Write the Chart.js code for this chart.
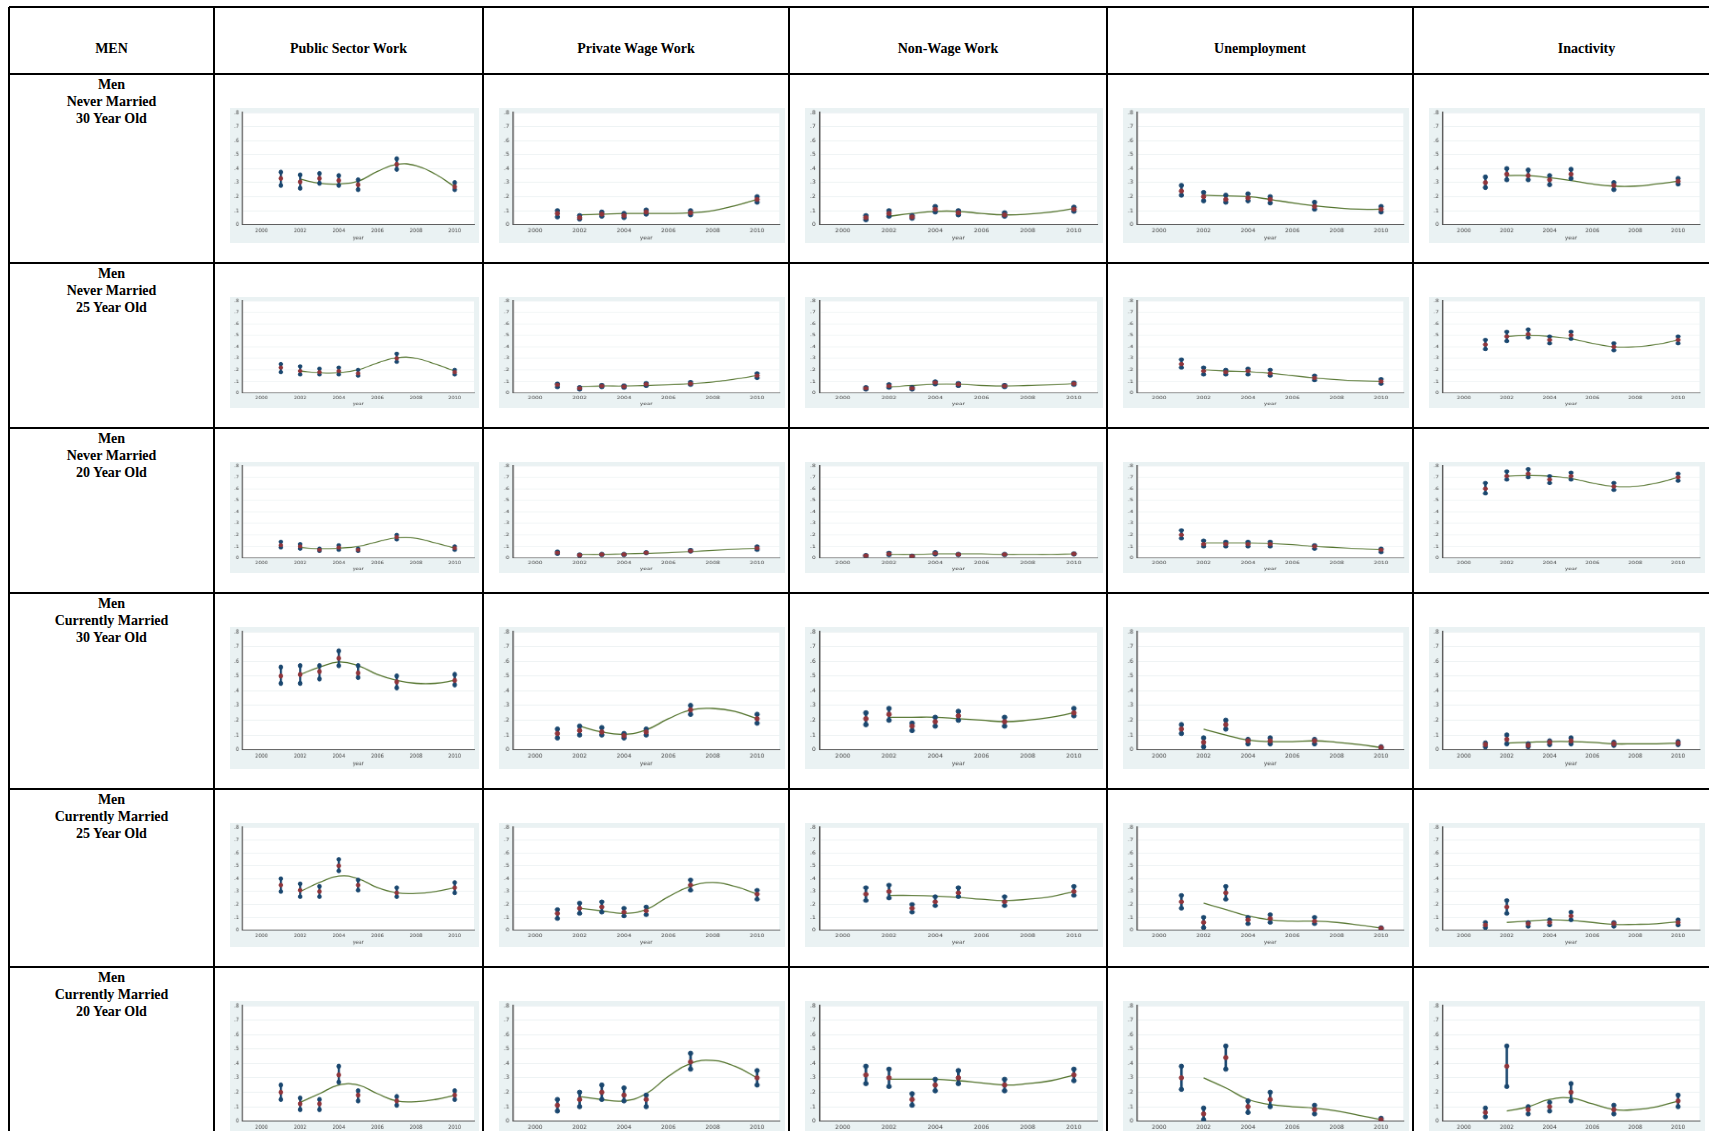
<!DOCTYPE html>
<html><head><meta charset="utf-8">
<script src="https://cdn.jsdelivr.net/npm/chart.js@4"></script>
<style>
body{margin:0;background:#fff;width:1709px;height:1131px;overflow:hidden;position:relative;font-family:"Liberation Serif","Times New Roman",serif;}
.hl{position:absolute;background:#000;height:2px;}
.vl{position:absolute;background:#000;width:2px;}
.txt{position:absolute;font-weight:bold;font-size:14px;text-align:center;line-height:17px;}
.panel{position:absolute;background:#eaf2f3;}
.panel canvas{position:absolute;left:0;top:0;}
</style></head><body>
<script>
const years = [2001,2002,2003,2004,2005,2007,2010];
const fitYears = [2002,2003,2004,2005,2006,2007,2008,2009,2010];
const columns = ["Public Sector Work","Private Wage Work","Non-Wage Work","Unemployment","Inactivity"];
const rowLabels = [["Men","Never Married","30 Year Old"],["Men","Never Married","25 Year Old"],["Men","Never Married","20 Year Old"],["Men","Currently Married","30 Year Old"],["Men","Currently Married","25 Year Old"],["Men","Currently Married","20 Year Old"]];
const yTicks = [0,1,2,3,4,5,6,7,8];
const xTicks = [2000,2002,2004,2006,2008,2010];
// [lo, mid, hi] per year (in tenths of a share), and fitted curve values
const nm30_pub = [[2.8,3.3,3.75],[2.6,3.05,3.55],[2.95,3.3,3.65],[2.8,3.15,3.5],[2.5,2.85,3.2],[3.95,4.3,4.7],[2.5,2.7,3.0]];
const nm30_pub_fit = [3.25,2.95,2.9,3.1,3.8,4.3,4.2,3.6,2.7];
const nm30_prv = [[0.55,0.8,1.0],[0.4,0.5,0.65],[0.6,0.75,0.9],[0.5,0.65,0.8],[0.75,0.9,1.05],[0.7,0.85,1.0],[1.6,1.8,2.0]];
const nm30_prv_fit = [0.7,0.75,0.8,0.8,0.8,0.85,1.0,1.35,1.8];
const nm30_nw = [[0.35,0.5,0.65],[0.6,0.8,1.0],[0.45,0.55,0.65],[0.9,1.1,1.3],[0.7,0.85,1.0],[0.6,0.7,0.85],[0.95,1.1,1.25]];
const nm30_nw_fit = [0.6,0.8,0.95,0.95,0.8,0.7,0.75,0.9,1.15];
const nm30_un = [[2.1,2.4,2.8],[1.7,2.0,2.3],[1.6,1.8,2.1],[1.7,1.9,2.2],[1.55,1.8,2.0],[1.1,1.3,1.6],[0.9,1.1,1.3]];
const nm30_un_fit = [2.1,2.05,2.0,1.8,1.55,1.35,1.2,1.1,1.1];
const nm30_in = [[2.65,3.0,3.4],[3.2,3.6,4.0],[3.2,3.5,3.9],[2.85,3.2,3.5],[3.3,3.6,3.95],[2.5,2.8,3.0],[2.9,3.1,3.3]];
const nm30_in_fit = [3.5,3.5,3.35,3.15,2.9,2.75,2.75,2.9,3.1];

const nm25_pub = [[1.8,2.2,2.5],[1.6,1.9,2.3],[1.6,1.8,2.1],[1.6,1.9,2.2],[1.5,1.7,2.0],[2.7,3.0,3.4],[1.6,1.8,2.0]];
const nm25_pub_fit = [1.9,1.75,1.75,2.0,2.6,3.05,3.0,2.5,1.9];
const nm25_prv = [[0.5,0.7,0.8],[0.3,0.4,0.5],[0.5,0.6,0.7],[0.45,0.55,0.65],[0.6,0.75,0.85],[0.7,0.8,0.95],[1.3,1.5,1.7]];
const nm25_prv_fit = [0.55,0.6,0.6,0.65,0.7,0.8,0.95,1.2,1.5];
const nm25_nw = [[0.3,0.4,0.5],[0.45,0.6,0.75],[0.3,0.4,0.5],[0.75,0.9,1.0],[0.6,0.75,0.85],[0.5,0.6,0.7],[0.7,0.8,0.9]];
const nm25_nw_fit = [0.5,0.65,0.75,0.75,0.65,0.6,0.65,0.7,0.8];
const nm25_un = [[2.2,2.5,2.9],[1.6,1.9,2.2],[1.6,1.8,2.0],[1.6,1.9,2.1],[1.5,1.7,2.0],[1.1,1.3,1.5],[0.8,1.0,1.2]];
const nm25_un_fit = [2.0,1.9,1.85,1.7,1.5,1.3,1.15,1.05,1.0];
const nm25_in = [[3.8,4.2,4.6],[4.5,4.9,5.3],[4.8,5.1,5.5],[4.3,4.6,4.9],[4.7,5.0,5.3],[3.7,4.0,4.3],[4.3,4.6,4.9]];
const nm25_in_fit = [4.9,5.0,4.9,4.7,4.3,4.0,4.0,4.2,4.6];

const nm20_pub = [[0.9,1.1,1.4],[0.8,1.0,1.2],[0.6,0.7,0.8],[0.7,0.9,1.1],[0.6,0.7,0.8],[1.6,1.8,2.0],[0.7,0.85,1.0]];
const nm20_pub_fit = [0.9,0.8,0.85,1.0,1.4,1.75,1.7,1.3,0.85];
const nm20_prv = [[0.35,0.45,0.55],[0.2,0.25,0.3],[0.25,0.3,0.35],[0.25,0.3,0.35],[0.4,0.45,0.5],[0.55,0.6,0.7],[0.7,0.85,1.0]];
const nm20_prv_fit = [0.3,0.3,0.35,0.4,0.45,0.55,0.65,0.75,0.85];
const nm20_nw = [[0.15,0.2,0.25],[0.25,0.35,0.45],[0.1,0.15,0.2],[0.3,0.4,0.5],[0.25,0.3,0.35],[0.25,0.3,0.35],[0.3,0.35,0.4]];
const nm20_nw_fit = [0.3,0.3,0.35,0.35,0.35,0.3,0.3,0.3,0.35];
const nm20_un = [[1.7,2.0,2.4],[1.0,1.2,1.5],[1.0,1.2,1.4],[1.0,1.2,1.4],[1.0,1.2,1.4],[0.8,1.0,1.1],[0.5,0.7,0.8]];
const nm20_un_fit = [1.3,1.3,1.3,1.25,1.15,1.0,0.9,0.8,0.7];
const nm20_in = [[5.6,6.0,6.5],[6.8,7.1,7.5],[7.0,7.3,7.7],[6.5,6.8,7.1],[6.8,7.1,7.4],[5.9,6.2,6.5],[6.7,7.0,7.3]];
const nm20_in_fit = [7.1,7.15,7.1,6.9,6.5,6.2,6.2,6.5,7.0];

const cm30_pub = [[4.5,5.0,5.6],[4.5,5.1,5.7],[4.8,5.3,5.7],[5.7,6.2,6.7],[4.9,5.2,5.7],[4.2,4.6,5.0],[4.4,4.7,5.1]];
const cm30_pub_fit = [5.1,5.6,5.95,5.7,5.1,4.7,4.5,4.5,4.7];
const cm30_prv = [[0.8,1.1,1.4],[1.0,1.3,1.6],[1.0,1.2,1.5],[0.8,0.95,1.1],[1.0,1.2,1.4],[2.4,2.7,3.0],[1.8,2.1,2.4]];
const cm30_prv_fit = [1.6,1.2,1.05,1.35,2.1,2.7,2.8,2.6,2.1];
const cm30_nw = [[1.7,2.1,2.5],[2.0,2.4,2.8],[1.3,1.6,1.8],[1.6,1.9,2.2],[2.0,2.3,2.6],[1.6,1.9,2.2],[2.3,2.5,2.8]];
const cm30_nw_fit = [2.2,2.2,2.2,2.1,2.0,1.9,2.0,2.2,2.5];
const cm30_un = [[1.1,1.4,1.7],[0.2,0.5,0.8],[1.4,1.7,2.0],[0.4,0.6,0.7],[0.4,0.6,0.8],[0.4,0.6,0.7],[0.1,0.15,0.2]];
const cm30_un_fit = [1.4,1.0,0.65,0.55,0.55,0.6,0.5,0.35,0.15];
const cm30_in = [[0.2,0.35,0.45],[0.4,0.7,1.0],[0.2,0.3,0.4],[0.35,0.5,0.6],[0.4,0.6,0.8],[0.3,0.4,0.5],[0.35,0.45,0.55]];
const cm30_in_fit = [0.45,0.5,0.55,0.55,0.5,0.4,0.4,0.4,0.45];

const cm25_pub = [[3.0,3.5,4.0],[2.6,3.1,3.6],[2.6,3.0,3.4],[4.6,5.0,5.5],[3.1,3.5,3.9],[2.6,2.9,3.3],[2.9,3.3,3.7]];
const cm25_pub_fit = [3.0,3.7,4.2,4.0,3.3,2.9,2.85,3.0,3.3];
const cm25_prv = [[0.9,1.3,1.6],[1.3,1.7,2.1],[1.4,1.8,2.2],[1.1,1.4,1.7],[1.2,1.5,1.8],[3.1,3.5,3.9],[2.4,2.8,3.1]];
const cm25_prv_fit = [1.7,1.5,1.3,1.6,2.6,3.4,3.7,3.4,2.8];
const cm25_nw = [[2.3,2.8,3.3],[2.5,3.0,3.5],[1.4,1.7,2.0],[1.9,2.2,2.6],[2.6,2.9,3.3],[1.9,2.2,2.6],[2.7,3.0,3.4]];
const cm25_nw_fit = [2.7,2.7,2.65,2.55,2.4,2.3,2.4,2.6,3.0];
const cm25_un = [[1.7,2.2,2.7],[0.2,0.6,1.0],[2.4,2.9,3.4],[0.5,0.8,1.0],[0.6,0.9,1.2],[0.5,0.7,1.0],[0.1,0.15,0.2]];
const cm25_un_fit = [2.1,1.6,1.1,0.8,0.7,0.7,0.6,0.4,0.15];
const cm25_in = [[0.2,0.4,0.6],[1.3,1.8,2.3],[0.3,0.5,0.6],[0.4,0.6,0.8],[0.8,1.1,1.4],[0.3,0.5,0.6],[0.4,0.6,0.8]];
const cm25_in_fit = [0.6,0.7,0.8,0.75,0.6,0.45,0.45,0.5,0.65];

const cm20_pub = [[1.5,2.0,2.5],[0.8,1.2,1.6],[0.8,1.2,1.5],[2.7,3.2,3.8],[1.4,1.8,2.1],[1.1,1.4,1.7],[1.5,1.8,2.1]];
const cm20_pub_fit = [1.3,1.9,2.5,2.5,1.9,1.4,1.35,1.5,1.8];
const cm20_prv = [[0.7,1.1,1.5],[1.0,1.5,2.0],[1.5,2.0,2.5],[1.4,1.8,2.3],[1.0,1.5,1.8],[3.6,4.1,4.7],[2.5,3.0,3.5]];
const cm20_prv_fit = [1.7,1.5,1.4,1.9,3.1,4.0,4.2,3.8,3.0];
const cm20_nw = [[2.6,3.2,3.8],[2.4,3.0,3.6],[1.1,1.5,1.9],[2.1,2.5,2.9],[2.6,3.0,3.5],[2.1,2.5,2.9],[2.8,3.2,3.6]];
const cm20_nw_fit = [2.9,2.9,2.9,2.8,2.65,2.5,2.6,2.8,3.2];
const cm20_un = [[2.2,3.0,3.8],[0.1,0.5,0.9],[3.6,4.4,5.2],[0.6,1.0,1.4],[1.0,1.5,2.0],[0.5,0.8,1.1],[0.0,0.1,0.2]];
const cm20_un_fit = [3.0,2.3,1.5,1.15,1.0,0.9,0.7,0.4,0.1];
const cm20_in = [[0.3,0.6,0.9],[2.4,3.8,5.2],[0.5,0.8,1.0],[0.7,1.0,1.3],[1.4,2.0,2.6],[0.5,0.8,1.1],[1.0,1.4,1.8]];
const cm20_in_fit = [0.7,1.0,1.5,1.6,1.2,0.8,0.8,1.0,1.4];

const panels = [
 [[nm30_pub,nm30_pub_fit],[nm30_prv,nm30_prv_fit],[nm30_nw,nm30_nw_fit],[nm30_un,nm30_un_fit],[nm30_in,nm30_in_fit]],
 [[nm25_pub,nm25_pub_fit],[nm25_prv,nm25_prv_fit],[nm25_nw,nm25_nw_fit],[nm25_un,nm25_un_fit],[nm25_in,nm25_in_fit]],
 [[nm20_pub,nm20_pub_fit],[nm20_prv,nm20_prv_fit],[nm20_nw,nm20_nw_fit],[nm20_un,nm20_un_fit],[nm20_in,nm20_in_fit]],
 [[cm30_pub,cm30_pub_fit],[cm30_prv,cm30_prv_fit],[cm30_nw,cm30_nw_fit],[cm30_un,cm30_un_fit],[cm30_in,cm30_in_fit]],
 [[cm25_pub,cm25_pub_fit],[cm25_prv,cm25_prv_fit],[cm25_nw,cm25_nw_fit],[cm25_un,cm25_un_fit],[cm25_in,cm25_in_fit]],
 [[cm20_pub,cm20_pub_fit],[cm20_prv,cm20_prv_fit],[cm20_nw,cm20_nw_fit],[cm20_un,cm20_un_fit],[cm20_in,cm20_in_fit]]
];

const colX = [9,214,483,789,1107,1413,1760];
const rowY = [7,74,263,428,593,789,967,1160];

function add(cls, style, html){const d=document.createElement('div');d.className=cls;Object.assign(d.style,style);if(html)d.innerHTML=html;document.body.appendChild(d);return d;}
rowY.forEach(y=>add('hl',{left:colX[0]+'px',top:(y-1)+'px',width:'1709px'}));
colX.forEach(x=>add('vl',{left:(x-1)+'px',top:rowY[0]+'px',height:'1131px'}));
add('txt',{left:colX[0]+'px',width:(colX[1]-colX[0])+'px',top:'40px'},'MEN');
columns.forEach((c,i)=>add('txt',{left:colX[i+1]+'px',width:(colX[i+2]-colX[i+1])+'px',top:'40px'},c));
rowLabels.forEach((r,i)=>add('txt',{left:colX[0]+'px',width:(colX[1]-colX[0])+'px',top:(rowY[i+1]+2)+'px'},r.join('<br>')));

const bgPlugin={id:'bg',beforeDraw(ch){const a=ch.chartArea,c=ch.ctx;c.save();c.fillStyle='#fff';c.fillRect(a.left,a.top,a.right-a.left,a.bottom-a.top);c.restore();}};
const BLUE='#1a476f',RED='#90353b',GREEN='#55752f';

for(let r=0;r<6;r++){
 const top=rowY[r+1]+34, h=rowY[r+2]-rowY[r+1]-54;
 for(let c=0;c<5;c++){
  const left=colX[c+1]+16, w=(c===4?1705:colX[c+2])-colX[c+1]-20+(c===4?0:0);
  const pw = c===4? 1705-left : w;
  const p=add('panel',{left:left+'px',top:top+'px',width:pw+'px',height:h+'px'});
  const cv=document.createElement('canvas');p.appendChild(cv);
  const [ci,fit]=panels[r][c];
  new Chart(cv,{
   type:'bar',
   data:{datasets:[
    {type:'line',data:fitYears.map((x,i)=>({x,y:fit[i]})),borderColor:GREEN,borderWidth:1.3,pointRadius:0,tension:0.45,order:5},
    {type:'bar',data:years.map((x,i)=>({x,y:[ci[i][0],ci[i][2]]})),backgroundColor:BLUE,barThickness:2,order:4},
    {type:'scatter',data:years.map((x,i)=>({x,y:ci[i][0]})),backgroundColor:BLUE,borderColor:BLUE,pointRadius:2.3,order:3},
    {type:'scatter',data:years.map((x,i)=>({x,y:ci[i][2]})),backgroundColor:BLUE,borderColor:BLUE,pointRadius:2.3,order:3},
    {type:'scatter',data:years.map((x,i)=>({x,y:ci[i][1]})),backgroundColor:RED,borderColor:RED,pointRadius:2.3,order:1}
   ]},
   options:{responsive:false,animation:false,devicePixelRatio:1,
    layout:{padding:{left:4,right:6,top:4,bottom:2}},
    plugins:{legend:{display:false},tooltip:{enabled:false}},
    scales:{
     x:{type:'linear',min:2000,max:2010,afterBuildTicks:s=>{s.ticks=xTicks.map(v=>({value:v}));},
        grid:{display:false,drawTicks:true,tickLength:2},border:{color:'#555'},
        ticks:{font:{size:6,family:'DejaVu Sans'},color:'#444',padding:1,maxRotation:0,callback:v=>String(v)},
        title:{display:true,text:'year',font:{size:6,family:'DejaVu Sans'},color:'#444',padding:0}},
     y:{min:0,max:8,afterBuildTicks:s=>{s.ticks=yTicks.map(v=>({value:v}));},
        grid:{color:'#eef3f4',tickLength:3},border:{color:'#555',width:1.5},
        ticks:{font:{size:6,family:'DejaVu Sans'},color:'#444',padding:1,callback:v=>v===0?'0':'.'+v}}
    }},
   plugins:[bgPlugin]
  });
  cv.style.width=pw+'px';cv.style.height=h+'px';
 }
}
</script>
</body></html>
